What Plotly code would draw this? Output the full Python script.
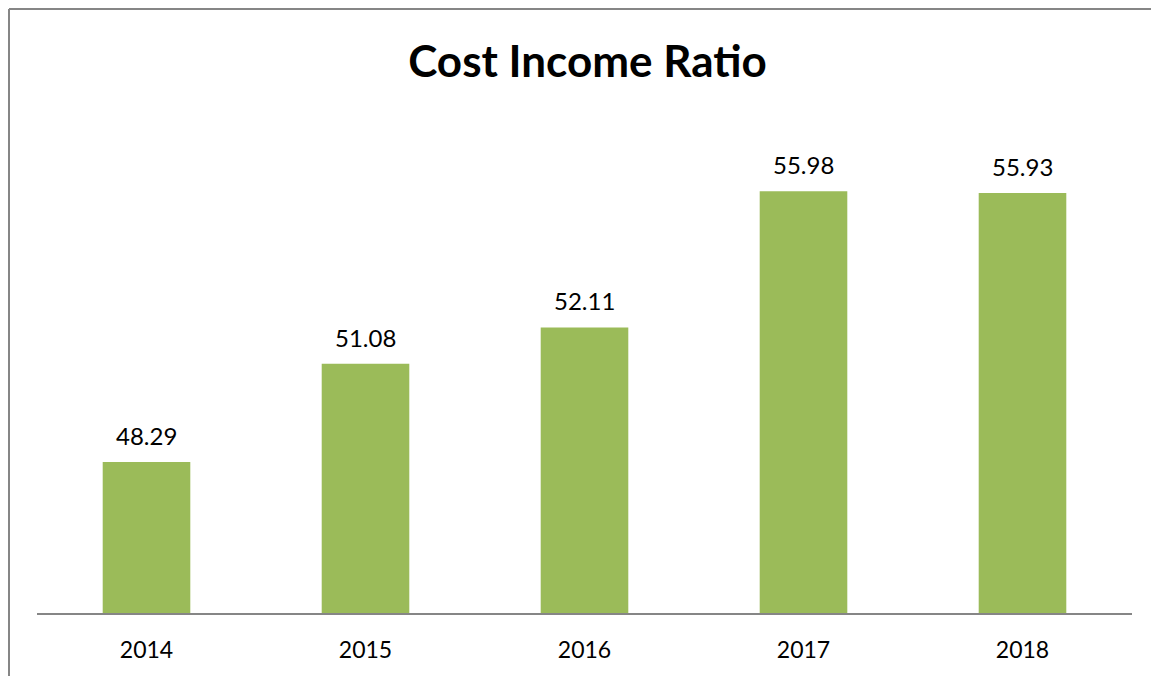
import plotly.graph_objects as go

years = ["2014", "2015", "2016", "2017", "2018"]
ratios = [48.29, 51.08, 52.11, 55.98, 55.93]
labels = ["48.29", "51.08", "52.11", "55.98", "55.93"]

FONT = "Lato, 'Open Sans', sans-serif"

# figure is rendered with an 8px page offset; plot area in figure coords
L, R, T, B = 29, 35, 112, 71
PW = 1159 - L - R
PH = 676 - T - B

fig = go.Figure()
fig.add_trace(go.Bar(
    x=years, y=ratios,
    marker=dict(color="#9BBB59", line=dict(width=0)),
    cliponaxis=False, width=0.4,
))

# category positions on a category axis are the indices 0..n-1
annotations = [
    dict(x=i, y=v, text=t, xref="x", yref="y", showarrow=False,
         yanchor="bottom", yshift=10,
         font=dict(size=24, color="#000000", family=FONT))
    for i, (v, t) in enumerate(zip(ratios, labels))
]

fig.update_layout(
    width=1159, height=676,
    margin=dict(l=L, r=R, t=T, b=B),
    paper_bgcolor="white", plot_bgcolor="white",
    showlegend=False,
    title=dict(text="<b>Cost Income Ratio</b>", x=0.5, xanchor="center",
               y=1 - 54 / 676, yanchor="middle",
               font=dict(size=44, color="#000000", family=FONT)),
    font=dict(family=FONT, color="#000000"),
    xaxis=dict(type="category", range=[-0.5, len(years) - 0.5],
               showline=True, linecolor="#868686", linewidth=2,
               showgrid=False, ticks="", tickfont=dict(size=23, family=FONT),
               ticklabelstandoff=15),
    yaxis=dict(range=[44, 58], visible=False, showgrid=False),
    annotations=annotations,
    shapes=[
        dict(type="line", xref="paper", yref="paper",
             x0=(1 - L) / PW, x1=1.2, y0=(PH + T - 1) / PH, y1=(PH + T - 1) / PH,
             line=dict(color="#868686", width=2), layer="below"),
        dict(type="line", xref="paper", yref="paper",
             x0=(1 - L) / PW, x1=(1 - L) / PW, y0=-0.3, y1=(PH + T - 1) / PH,
             line=dict(color="#868686", width=2), layer="below"),
    ],
)

fig.write_html("out.html")
